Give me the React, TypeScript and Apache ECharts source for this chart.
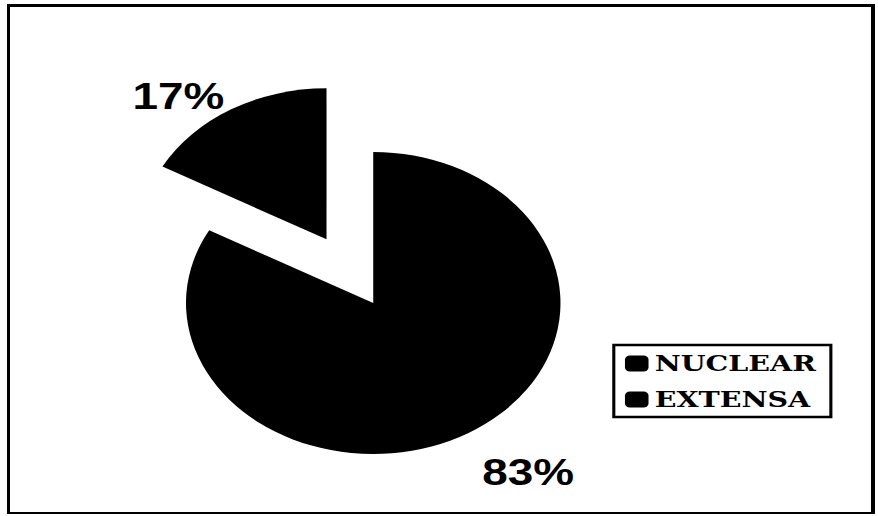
import React, { useEffect, useRef } from "react";
import * as echarts from "echarts";

const categories = ["NUCLEAR", "EXTENSA"];
const values = [83, 17];
const colors = ["#000000", "#000000"];

// The scanned original is stretched horizontally; reproduce via a horizontal scale
const STRETCH = 1.24;
const W = 878;
const H = 516;

export default function App() {
  const ref = useRef<HTMLDivElement>(null);

  useEffect(() => {
    if (!ref.current) return;
    const chart = echarts.init(ref.current, undefined, { renderer: "svg" });
    const data = categories.map((name, i) => ({
      name,
      value: values[i],
      selected: i === 1,
      itemStyle: { color: colors[i] },
    }));
    chart.setOption({
      animation: false,
      backgroundColor: "transparent",
      legend: {
        data: categories,
        orient: "vertical",
        left: 495,
        top: 345,
        padding: [7, 12, 6, 9],
        itemGap: 13,
        itemWidth: 19,
        itemHeight: 16,
        icon: "roundRect",
        selectedMode: false,
        borderColor: "#000",
        borderWidth: 2.5,
        backgroundColor: "#fff",
        textStyle: {
          fontFamily: "DejaVu Serif",
          fontWeight: "bold",
          fontSize: 23,
          color: "#000",
        },
      },
      series: [
        {
          type: "pie",
          center: [301, 303],
          radius: 151,
          startAngle: 90,
          clockwise: true,
          selectedMode: "multiple",
          selectedOffset: 74,
          avoidLabelOverlap: false,
          silent: true,
          emphasis: { disabled: true },
          label: {
            show: true,
            position: "outside",
            formatter: (p: any) => Math.round(p.percent) + "%",
            fontFamily: "Liberation Sans",
            fontWeight: "bold",
            fontSize: 37,
            color: "#000",
          },
          labelLine: { show: false },
          labelLayout: (p: any) =>
            p.dataIndex === 0
              ? { x: 426, y: 472, align: "center", verticalAlign: "middle" }
              : { x: 139, y: 74, align: "center", verticalAlign: "middle" },
          data,
        },
      ],
    });
    return () => chart.dispose();
  }, []);

  return (
    <div
      style={{
        position: "fixed",
        left: 0,
        top: 0,
        width: W,
        height: H,
        background: "#fff",
        overflow: "hidden",
      }}
    >
      <div
        ref={ref}
        style={{
          position: "absolute",
          left: 0,
          top: 0,
          width: W / STRETCH,
          height: H,
          transform: `scaleX(${STRETCH})`,
          transformOrigin: "0 0",
        }}
      />
      <div
        style={{
          position: "absolute",
          left: 7,
          top: 4,
          width: 868,
          height: 510,
          boxSizing: "border-box",
          borderTop: "3px solid #000",
          borderLeft: "3px solid #000",
          borderRight: "4px solid #000",
          borderBottom: "2px solid #000",
          pointerEvents: "none",
        }}
      />
    </div>
  );
}
